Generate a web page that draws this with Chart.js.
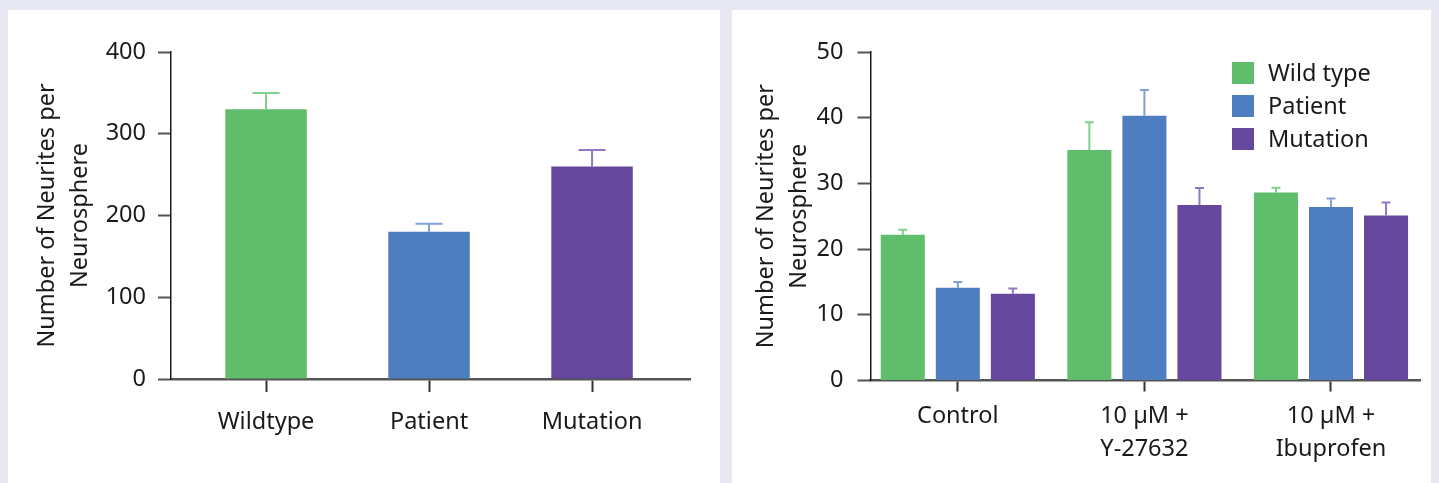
<!DOCTYPE html>
<html>
<head>
<meta charset="utf-8">
<script src="https://cdn.jsdelivr.net/npm/chart.js@4"></script>
<style>
	body { margin: 0; background: #e8e8f2; width: 1439px; height: 483px; overflow: hidden; }
	.panel { position: absolute; top: 10px; background: #fff; }
	#left-panel { left: 8px; width: 712px; height: 473px; }
	#right-panel { left: 732px; width: 699px; height: 473px; }
</style>
</head>
<body>
<div class="panel" id="left-panel"><canvas id="left-plot" width="712" height="473"></canvas></div>
<div class="panel" id="right-panel"><canvas id="right-plot" width="699" height="473"></canvas></div>
<script>

/* data */

const categories = [ 'Wildtype', 'Patient', 'Mutation' ];
const neurites = [ 330, 180, 260 ];
const neuritesErr = [ 20, 10, 20 ];
const yTicksLeft = [ 0, 100, 200, 300, 400 ];

const groups = [ 'Control', [ '10 µM +', 'Y-27632' ], [ '10 µM +', 'Ibuprofen' ] ];
const seriesNames = [ 'Wild type', 'Patient', 'Mutation' ];
const wildType = [ 22.2, 35.1, 28.6 ];
const wildTypeErr = [ 0.75, 4.2, 0.75 ];
const patient = [ 14.1, 40.3, 26.4 ];
const patientErr = [ 0.9, 3.9, 1.3 ];
const mutation = [ 13.2, 26.7, 25.1 ];
const mutationErr = [ 0.8, 2.6, 2.0 ];
const yTicksRight = [ 0, 10, 20, 30, 40, 50 ];

const yTitle = [ 'Number of Neurites per', 'Neurosphere' ];

const colors = [ '#5fbd6b', '#4f7ec0', '#66479e' ];
const errColors = [ '#80cf8b', '#7ea1d6', '#8f78c0' ];

const FONT = 'Noto Sans';
const TEXT = '#1a1a1a';

Chart.defaults.font.family = FONT;
Chart.defaults.color = TEXT;


// upper error bars with a cap, drawn from the value scale
const errorBars = {
	id: 'errorBars',
	afterDatasetsDraw( chart, args, opts ) {

		const { ctx } = chart;
		const y = chart.scales.y;

		chart.data.datasets.forEach( ( ds, i ) => {

			chart.getDatasetMeta( i ).data.forEach( ( bar, j ) => {

				const top = y.getPixelForValue( ds.data[ j ].y + ds.errors[ j ] );
				ctx.save();
				ctx.strokeStyle = Array.isArray( ds.errorColor ) ? ds.errorColor[ j ] : ds.errorColor;
				ctx.lineWidth = 2;
				ctx.beginPath();
				ctx.moveTo( bar.x, bar.y );
				ctx.lineTo( bar.x, top );
				ctx.moveTo( bar.x - opts.cap / 2, top );
				ctx.lineTo( bar.x + opts.cap / 2, top );
				ctx.stroke();
				ctx.restore();

			} );

		} );

	}
};

// legend in the top right corner of the plot
const boxLegend = {
	id: 'boxLegend',
	afterDraw( chart, args, opts ) {

		if ( !opts.display ) return;

		const { ctx, chartArea } = chart;
		const x = chartArea.right + opts.x;
		let y = chartArea.top + opts.y;

		ctx.save();
		ctx.font = '23.5px "' + FONT + '"';
		ctx.textBaseline = 'middle';
		ctx.textAlign = 'left';

		chart.data.datasets.forEach( ( ds ) => {

			ctx.fillStyle = ds.backgroundColor;
			ctx.fillRect( x, y, 22, 22 );
			ctx.fillStyle = TEXT;
			ctx.fillText( ds.label, x + 36, y + 12 );
			y += 33;

		} );

		ctx.restore();

	}
};

const toPoints = ( values ) => values.map( ( v, i ) => ( { x: i, y: v } ) );

function xScale( labels, min, max, height, tickLength, padding, lineHeight ) {

	return {
		type: 'linear',
		min: min,
		max: max,
		offset: false,
		afterBuildTicks: ( axis ) => { axis.ticks = labels.map( ( l, i ) => ( { value: i } ) ); },
		afterFit: ( axis ) => { axis.height = height; },
		grid: {
			offset: false,
			drawOnChartArea: false,
			tickLength: tickLength,
			tickColor: '#333',
			tickWidth: 2
		},
		border: { color: '#555', width: 2.5 },
		ticks: {
			autoSkip: false,
			maxRotation: 0,
			padding: padding,
			font: { size: 23.5, lineHeight: lineHeight },
			color: TEXT,
			callback: ( v ) => labels[ v ]
		}
	};

}

function yScale( tickValues, width, padding, titlePad ) {

	return {
		min: tickValues[ 0 ],
		max: tickValues[ tickValues.length - 1 ],
		afterBuildTicks: ( axis ) => { axis.ticks = tickValues.map( ( v ) => ( { value: v } ) ); },
		afterFit: ( axis ) => { axis.width = width; },
		grid: {
			drawOnChartArea: false,
			tickLength: 13,
			tickColor: '#555',
			tickWidth: 2
		},
		border: { color: '#1a1a1a', width: 1.5 },
		ticks: {
			padding: padding,
			font: { size: 23.5 },
			color: TEXT
		},
		title: {
			display: true,
			text: yTitle,
			color: TEXT,
			font: { size: 23.5, lineHeight: 1.4 },
			padding: { top: titlePad, bottom: 0 }
		}
	};

}


/* left: single series */

const leftCTX = document.getElementById('left-plot');

const leftData = {
	datasets: [{
		label: 'Neurites',
		data: toPoints( neurites ),
		errors: neuritesErr,
		backgroundColor: colors,
		errorColor: errColors,
		categoryPercentage: 0.5,
		barPercentage: 1
	}]
};

const leftChart = new Chart( leftCTX, {
	type: 'bar',
	data: leftData,
	plugins: [ errorBars ],
	options: {
		responsive: false,
		animation: false,
		layout: { padding: { top: 42, right: 30, bottom: 0, left: 0 } },
		plugins: {
			legend: { display: false },
			tooltip: { enabled: false },
			errorBars: { cap: 27 }
		},
		scales: {
			x: xScale( categories, -0.583, 2.601, 104, 13, 16, 1.2 ),
			y: yScale( yTicksLeft, 163, 12, 22.5 )
		}
	}
});


/* right: grouped series */

const rightCTX = document.getElementById('right-plot');

const rightValues = [ wildType, patient, mutation ];
const rightErrors = [ wildTypeErr, patientErr, mutationErr ];

const rightData = {
	datasets: seriesNames.map( ( name, i ) => ( {
		label: name,
		data: toPoints( rightValues[ i ] ),
		errors: rightErrors[ i ],
		backgroundColor: colors[ i ],
		errorColor: errColors[ i ],
		categoryPercentage: 0.885,
		barPercentage: 0.8
	} ) )
};

const rightChart = new Chart( rightCTX, {
	type: 'bar',
	data: rightData,
	plugins: [ errorBars, boxLegend ],
	options: {
		responsive: false,
		animation: false,
		layout: { padding: { top: 42, right: 11, bottom: 0, left: 0 } },
		plugins: {
			legend: { display: false },
			tooltip: { enabled: false },
			errorBars: { cap: 9 },
			boxLegend: { display: true, x: -188, y: 10 }
		},
		scales: {
			x: xScale( groups, -0.468, 2.477, 102.5, 11, 8, 1.4 ),
			y: yScale( yTicksRight, 138.5, 14, 17.5 )
		}
	}
});

</script>
</body>
</html>
